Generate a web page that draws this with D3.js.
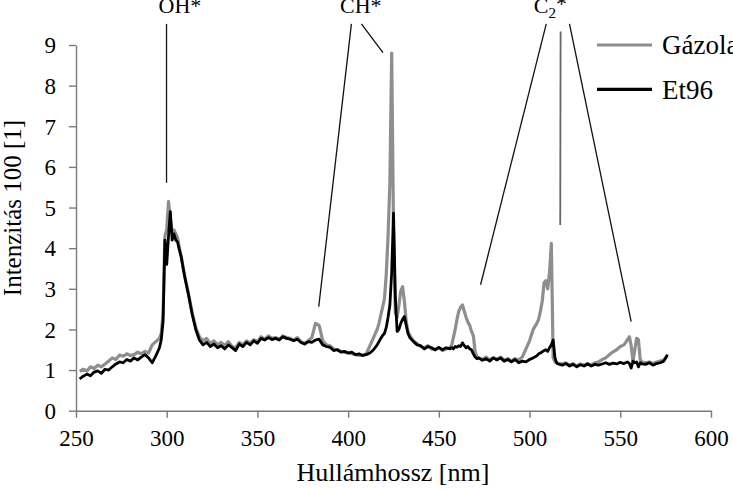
<!DOCTYPE html>
<html><head><meta charset="utf-8">
<script src="https://cdn.jsdelivr.net/npm/d3@7/dist/d3.min.js"></script>
<style>
html,body{margin:0;padding:0;background:#fff;overflow:hidden;}
svg text{font-family:"Liberation Serif","Times New Roman",Times,serif !important;}
</style></head>
<body>
<svg id="chart" width="733" height="492"></svg>
<script>
// wavelength (nm)
const wavelength = [
252,254,256,258,260,262,264,266,268,270,272,274,276,278,280,282,284,286,288,290,292,294,
296,297,298,299,300,301,302,303,304,305,306,307,308,309,310,
312,314,316,318,320,322,324,326,328,330,332,334,336,338,340,342,344,346,348,350,352,354,356,358,360,362,364,366,368,370,372,374,376,378,380,382,384,386,388,390,392,394,396,398,400,402,404,406,408,410,412,414,416,
417,418,419,420,421,422,423,424,425,426,427,428,429,430,431,432,433,434,
436,438,440,442,444,446,448,450,452,454,456,
457,458,459,460,461,462,463,464,465,466,467,468,469,470,471,
472,474,476,478,480,482,484,486,488,490,492,494,496,498,500,502,504,
505,506,507,508,509,510,511,512,513,514,515,516,
518,520,522,524,526,528,530,532,534,536,538,540,542,544,546,548,550,552,
553,554,555,556,557,558,559,560,561,562,
564,566,568,570,572,574,576];

// Gázolaj intensity (/100)
const gazola = [
0.97,1.02,0.98,1.08,1.04,1.12,1.08,1.15,1.22,1.30,1.26,1.37,1.34,1.40,1.36,1.38,1.44,1.40,1.46,1.42,1.62,1.70,
1.78,1.90,2.40,4.30,4.45,5.15,4.70,4.40,4.45,4.35,4.25,4.00,3.80,3.55,3.30,
2.88,2.42,2.05,1.82,1.72,1.78,1.65,1.72,1.62,1.68,1.60,1.70,1.58,1.55,1.68,1.62,1.72,1.66,1.75,1.70,1.82,1.76,1.84,1.78,1.80,1.76,1.84,1.80,1.78,1.74,1.80,1.70,1.66,1.72,1.80,2.15,2.10,1.72,1.62,1.60,1.52,1.50,1.46,1.44,1.42,1.40,1.38,1.36,1.36,1.40,1.60,1.80,2.00,
2.15,2.35,2.55,2.75,3.35,4.30,5.60,8.80,4.50,2.40,2.30,2.60,2.95,3.05,2.70,2.20,1.95,1.85,
1.72,1.65,1.58,1.55,1.60,1.52,1.50,1.55,1.48,1.52,1.55,
1.60,1.80,2.00,2.25,2.45,2.55,2.60,2.45,2.30,2.18,2.10,1.95,1.85,1.45,1.32,
1.30,1.26,1.32,1.25,1.30,1.27,1.32,1.24,1.28,1.22,1.28,1.25,1.32,1.52,1.72,2.00,2.15,
2.25,2.45,2.70,3.15,3.20,3.00,3.40,4.12,1.30,1.20,1.18,1.15,
1.15,1.18,1.12,1.16,1.10,1.15,1.12,1.16,1.12,1.18,1.20,1.26,1.30,1.38,1.45,1.50,1.58,1.62,
1.68,1.75,1.82,1.60,1.22,1.50,1.78,1.75,1.25,1.20,
1.18,1.20,1.16,1.20,1.22,1.25,1.35];

// Et96 intensity (/100)
const et96 = [
0.78,0.85,0.90,0.86,0.95,0.98,0.92,1.02,1.00,1.08,1.15,1.20,1.18,1.26,1.22,1.30,1.25,1.32,1.38,1.30,1.18,1.35,
1.55,1.75,2.20,4.20,3.60,4.30,4.90,4.20,4.35,4.20,4.15,3.95,3.78,3.52,3.28,
2.85,2.38,2.00,1.74,1.62,1.68,1.58,1.64,1.55,1.60,1.52,1.62,1.55,1.48,1.64,1.58,1.68,1.62,1.72,1.66,1.78,1.74,1.80,1.75,1.78,1.74,1.82,1.78,1.76,1.72,1.76,1.68,1.64,1.70,1.68,1.74,1.76,1.62,1.58,1.56,1.48,1.50,1.44,1.46,1.42,1.44,1.38,1.40,1.36,1.38,1.42,1.50,1.62,
1.70,1.78,1.85,1.90,2.05,2.30,2.60,3.40,4.86,2.80,1.95,2.00,2.15,2.25,2.32,2.10,1.90,1.80,
1.70,1.62,1.60,1.52,1.58,1.55,1.50,1.56,1.50,1.55,1.52,
1.55,1.52,1.58,1.56,1.60,1.58,1.67,1.60,1.55,1.58,1.52,1.50,1.40,1.32,1.28,
1.30,1.24,1.28,1.22,1.30,1.25,1.30,1.22,1.26,1.20,1.26,1.18,1.22,1.20,1.26,1.30,1.35,
1.40,1.42,1.45,1.48,1.50,1.46,1.55,1.62,1.74,1.30,1.17,1.15,
1.12,1.16,1.10,1.14,1.08,1.13,1.10,1.15,1.10,1.14,1.12,1.15,1.18,1.14,1.17,1.15,1.19,1.16,
1.18,1.20,1.16,1.05,1.22,1.18,1.20,1.08,1.18,1.15,
1.14,1.18,1.12,1.16,1.18,1.22,1.38];

const seriesNames = ["Gázola", "Et96"];
const xTicks = [250,300,350,400,450,500,550,600];
const yTicks = [0,1,2,3,4,5,6,7,8,9];
const xTitle = "Hullámhossz [nm]";
const yTitle = "Intenzitás 100 [1]";

// annotation labels and leader lines (data units: nm, intensity)
const annoLabels = [
  {text:"OH*", nm:307.3, v:9.80},
  {text:"CH*", nm:407.0, v:9.78},
  {text:"C", sub:"2", nm:511.5, v:9.78}
];
const annoLines = [
  [299.9,9.52,299.9,5.61],
  [401.8,9.52,383.8,2.56],
  [407.3,9.52,419.2,8.81],
  [509.2,9.52,473.0,3.10],
  [517.1,9.33,516.9,4.57],
  [522.0,9.52,556.0,2.19]
];

const FONT = "Liberation Serif, Times New Roman, serif";
const svg = d3.select("#chart").attr("font-family", FONT);
const x = d3.scaleLinear().domain([250,600]).range([76,711]);
const y = d3.scaleLinear().domain([0,9]).range([410.7,45]);
const axisColor = "#7a7a7a";

// axes
const gx = svg.append("g").attr("transform","translate(0,410.7)")
  .call(d3.axisBottom(x).tickValues(xTicks).tickSizeInner(7).tickSizeOuter(0).tickPadding(12));
const gy = svg.append("g").attr("transform","translate(76,0)")
  .call(d3.axisLeft(y).tickValues(yTicks).tickSizeInner(7).tickSizeOuter(0).tickPadding(13));
[gx,gy].forEach(g=>{
  g.attr("font-family", FONT).attr("font-size", 23);
  g.select(".domain").attr("stroke",axisColor).attr("stroke-width",1.4);
  g.selectAll(".tick line").attr("stroke",axisColor).attr("stroke-width",1.4);
  g.selectAll(".tick text").attr("fill","#000");
});
gy.selectAll(".tick text").attr("dy","0.34em");

// titles
svg.append("text").attr("x",393).attr("y",481).attr("text-anchor","middle")
  .attr("font-size",26).text(xTitle);
svg.append("text").attr("transform","translate(21,208) rotate(-90)").attr("text-anchor","middle")
  .attr("font-size",25).text(yTitle);

// lines
const line = d3.line().x((d,i)=>x(wavelength[i])).y(d=>y(d));
const colors = ["#8e8e8e","#000000"];
const widths = [3.2,2.8];
[gazola, et96].forEach((s,k)=>{
  svg.append("path").datum(s).attr("d",line).attr("fill","none")
    .attr("stroke",colors[k]).attr("stroke-width",widths[k]).attr("stroke-linejoin","round");
});

// annotation leader lines
annoLines.forEach((l,i)=>{
  svg.append("line").attr("x1",x(l[0])).attr("y1",y(l[1])).attr("x2",x(l[2])).attr("y2",y(l[3]))
    .attr("stroke", i===4 ? "#666" : "#111").attr("stroke-width", i===4 ? 1.8 : 1.3);
});
annoLabels.forEach(a=>{
  const t = svg.append("text").attr("x",x(a.nm)).attr("y",y(a.v)).attr("text-anchor","middle")
    .attr("font-size",22);
  if(a.sub){
    t.append("tspan").text(a.text);
    t.append("tspan").text(a.sub).attr("dy","0.3em").attr("font-size",15);
    t.append("tspan").text("*").attr("dy","-0.3em");
  } else t.text(a.text);
});

// legend
seriesNames.forEach((n,i)=>{
  const yy = 45 + i*44.3;
  svg.append("line").attr("x1",597).attr("x2",652).attr("y1",yy).attr("y2",yy)
    .attr("stroke",colors[i]).attr("stroke-width",3.2);
  svg.append("text").attr("x",662).attr("y",yy).attr("dy","0.35em").attr("font-size",27).text(n);
});
</script>
</body></html>
